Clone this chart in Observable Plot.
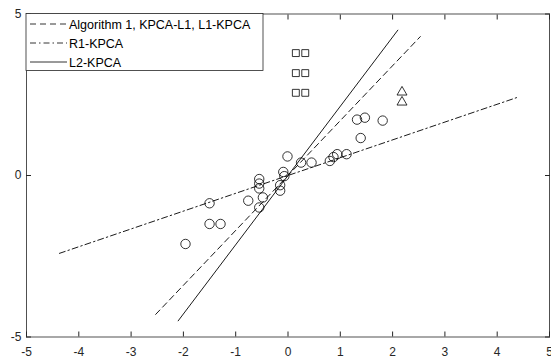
<!DOCTYPE html>
<html><head><meta charset="utf-8">
<script src="https://cdn.jsdelivr.net/npm/d3@7"></script>
<script src="https://cdn.jsdelivr.net/npm/@observablehq/plot@0.6"></script>
<style>body{margin:0;background:#fff} #chart svg{display:block}</style>
</head><body><div id="chart"></div>
<script>
const xTicks = [-5, -4, -3, -2, -1, 0, 1, 2, 3, 4, 5];
const yTicks = [-5, 0, 5];
const circleX = [-1.96, -1.50, -1.29, -1.50, -0.76, -0.48, -0.55, -0.55, -0.55, -0.55, -0.15, -0.15, -0.09, -0.07, -0.01, 0.25, 0.45, 0.80, 0.87, 0.94, 1.12, 1.32, 1.47, 1.39, 1.81];
const circleY = [-2.12, -1.50, -1.50, -0.86, -0.78, -0.68, -0.99, -0.11, -0.25, -0.40, -0.47, -0.30, 0.11, -0.02, 0.59, 0.40, 0.40, 0.45, 0.57, 0.66, 0.66, 1.73, 1.79, 1.16, 1.70];
const squareX = [0.15, 0.33, 0.15, 0.33, 0.15, 0.33];
const squareY = [3.79, 3.79, 3.17, 3.17, 2.56, 2.56];
const triangleX = [2.18, 2.18];
const triangleY = [2.58, 2.27];
const seriesNames = ["Algorithm 1, KPCA-L1, L1-KPCA", "R1-KPCA", "L2-KPCA"];
const lineStartX = [-2.53, -4.37, -2.10];
const lineStartY = [-4.30, -2.41, -4.50];
const lineEndX = [2.53, 4.37, 2.10];
const lineEndY = [4.30, 2.41, 4.50];
const dashes = ["6,4", "6,3,1.5,3", null];

const ink = "#262626";
const lineRows = seriesNames.flatMap((s, i) => [
  {s, i, x: lineStartX[i], y: lineStartY[i]},
  {s, i, x: lineEndX[i], y: lineEndY[i]}
]);
const circles = circleX.map((x, i) => ({x, y: circleY[i]}));
const squares = squareX.map((x, i) => ({x, y: squareY[i]}));
const triangles = triangleX.map((x, i) => ({x, y: triangleY[i]}));

const fmt = d => String(d);
const plot = Plot.plot({
  width: 551, height: 362,
  marginLeft: 26, marginRight: 2, marginTop: 13.5, marginBottom: 25.5,
  style: {fontFamily: "'Liberation Sans', Arial, sans-serif", fontSize: "12px", color: ink, background: "#fff"},
  x: {domain: [-5, 5]},
  y: {domain: [-5, 5]},
  marks: [
    ...seriesNames.map((s, i) => Plot.line(lineRows.filter(d => d.i === i), {x: "x", y: "y", stroke: "black", strokeWidth: 0.9, strokeDasharray: dashes[i]})),
    Plot.dot(circles, {x: "x", y: "y", r: 4.7, stroke: "black", strokeWidth: 0.8, fill: "none"}),
    Plot.dot(squares, {x: "x", y: "y", r: 3.9, symbol: "square", stroke: "black", strokeWidth: 0.8, fill: "none"}),
    Plot.dot(triangles, {x: "x", y: "y", r: 3.7, symbol: "triangle", stroke: "black", strokeWidth: 0.8, fill: "none"}),
    Plot.frame({stroke: ink, strokeWidth: 0.8}),
    Plot.axisX({anchor: "bottom", ticks: xTicks, tickSize: -5, tickPadding: 15.5, tickFormat: fmt, label: null}),
    Plot.axisX({anchor: "top", ticks: xTicks, tickSize: -5, tickFormat: () => "", label: null}),
    Plot.axisY({anchor: "left", ticks: yTicks, tickSize: -5, tickPadding: 10, tickFormat: fmt, label: null}),
    Plot.axisY({anchor: "right", ticks: yTicks, tickSize: -5, tickFormat: () => "", label: null})
  ]
});
document.getElementById("chart").appendChild(plot);

// legend box
const svg = d3.select(plot);
const lg = svg.append("g").attr("font-family", "'Liberation Sans', Arial, sans-serif").attr("font-size", 12.5).attr("fill", "black").attr("text-anchor", "start");
lg.append("rect").attr("x", 26).attr("y", 13.5).attr("width", 237).attr("height", 57).attr("fill", "white").attr("stroke", ink).attr("stroke-width", 0.8);
const rowY = [24, 43, 62];
seriesNames.forEach((s, i) => {
  lg.append("line").attr("x1", 30).attr("x2", 67).attr("y1", rowY[i]).attr("y2", rowY[i])
    .attr("stroke", "black").attr("stroke-width", 0.8).attr("stroke-dasharray", dashes[i]);
  lg.append("text").attr("x", 69).attr("y", rowY[i] + 4.5).attr("text-anchor", "start").text(s);
});
</script>
</body></html>
